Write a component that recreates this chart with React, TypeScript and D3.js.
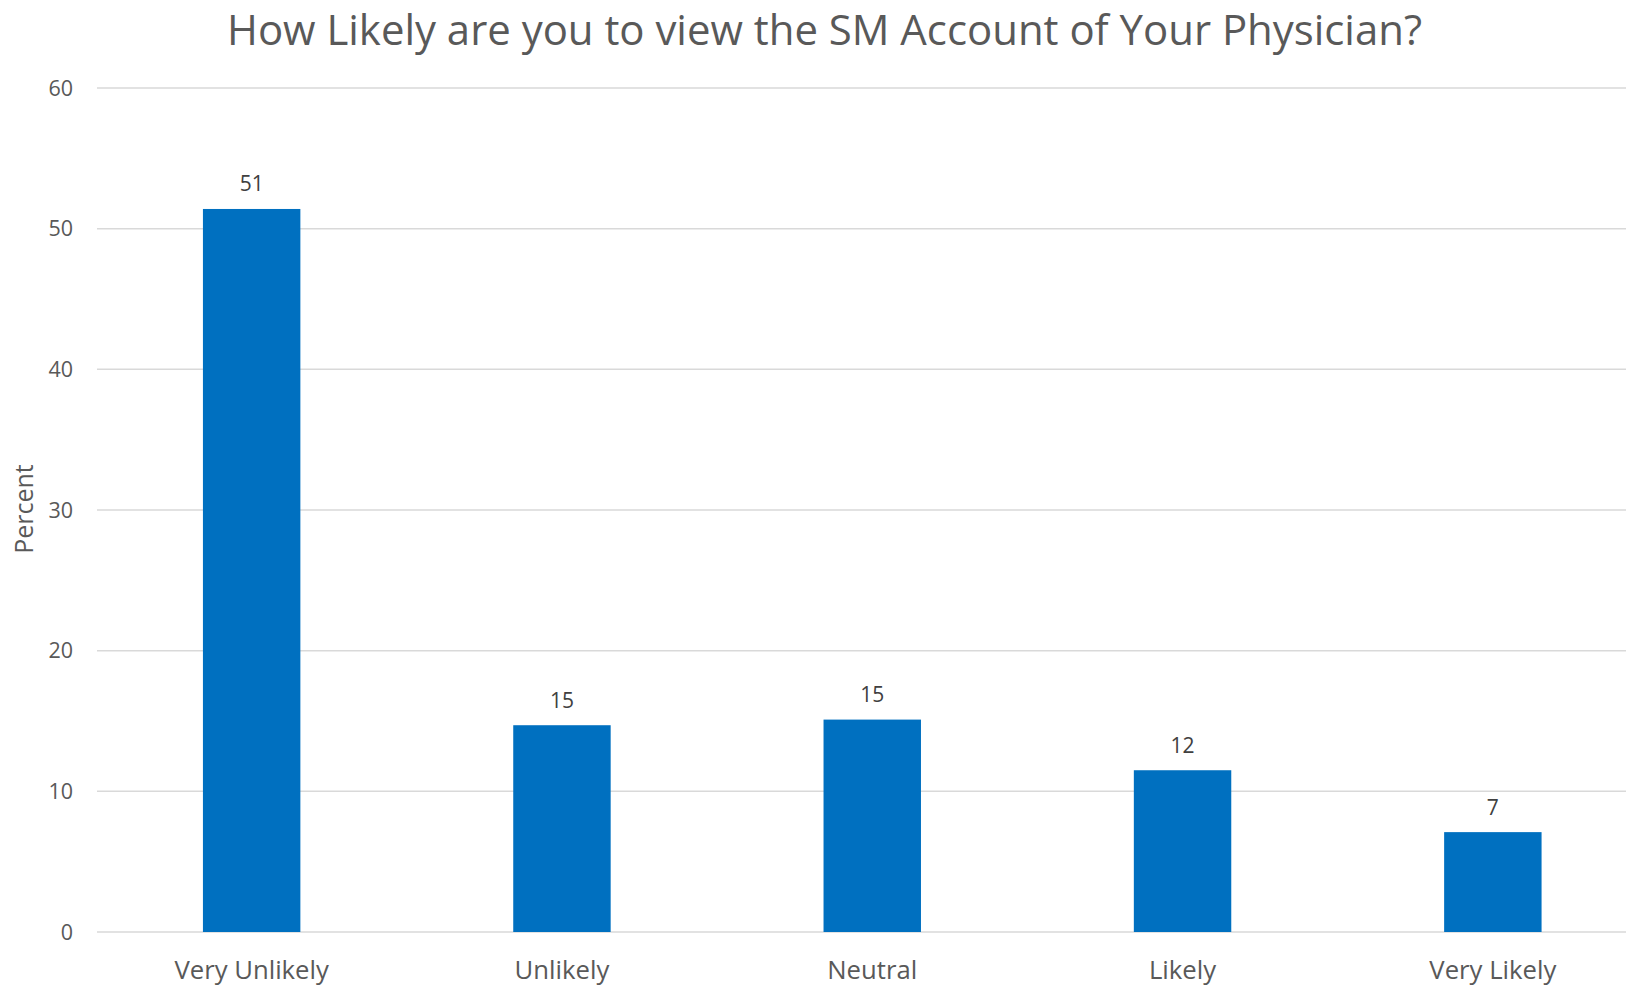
import React from "react";
import * as d3 from "d3";

const TITLE = "How Likely are you to view the SM Account of Your Physician?";
const Y_LABEL = "Percent";
const categories = ["Very Unlikely", "Unlikely", "Neutral", "Likely", "Very Likely"];
const values = [51.4, 14.7, 15.1, 11.5, 7.1];
const valueLabels = ["51", "15", "15", "12", "7"];
const yTicks = [0, 10, 20, 30, 40, 50, 60];

const W = 1626;
const H = 989;
const FONT = "'Open Sans', 'Noto Sans', sans-serif";

export default function App() {
  const x = d3
    .scaleBand<string>()
    .domain(categories)
    .range([96.5, 1648])
    .paddingInner(0.686)
    .paddingOuter(0.343);
  const y = d3.scaleLinear().domain([0, 60]).range([932, 88]);

  return (
    <svg
      width={W}
      height={H}
      style={{ position: "absolute", left: 0, top: 0, background: "#fff" }}
      fontFamily={FONT}
    >
      <text
        x={824.5}
        y={44.5}
        textAnchor="middle"
        fontSize={41.5}
        fill="#595959"
        textLength={1195}
        lengthAdjust="spacingAndGlyphs"
      >
        {TITLE}
      </text>
      <g>
        {yTicks.map((t) => (
          <g key={t}>
            <line
              x1={97}
              x2={W}
              y1={y(t)}
              y2={y(t)}
              stroke="#D9D9D9"
              strokeWidth={1.5}
            />
            <text
              x={73}
              y={y(t)}
              dy="0.35em"
              textAnchor="end"
              fontSize={21.5}
              fill="#595959"
            >
              {t}
            </text>
          </g>
        ))}
      </g>
      <text
        transform={`translate(33,509) rotate(-90)`}
        textAnchor="middle"
        fontSize={25}
        fill="#595959"
      >
        {Y_LABEL}
      </text>
      <g>
        {categories.map((c, i) => (
          <g key={c}>
            <rect
              x={x(c)!}
              y={y(values[i])}
              width={x.bandwidth()}
              height={y(0) - y(values[i])}
              fill="#0070C0"
            />
            <text
              x={x(c)! + x.bandwidth() / 2}
              y={y(values[i]) - 17.5}
              textAnchor="middle"
              fontSize={21}
              fill="#404040"
            >
              {valueLabels[i]}
            </text>
            <text
              x={x(c)! + x.bandwidth() / 2}
              y={979}
              textAnchor="middle"
              fontSize={25.7}
              fill="#595959"
            >
              {c}
            </text>
          </g>
        ))}
      </g>
    </svg>
  );
}
